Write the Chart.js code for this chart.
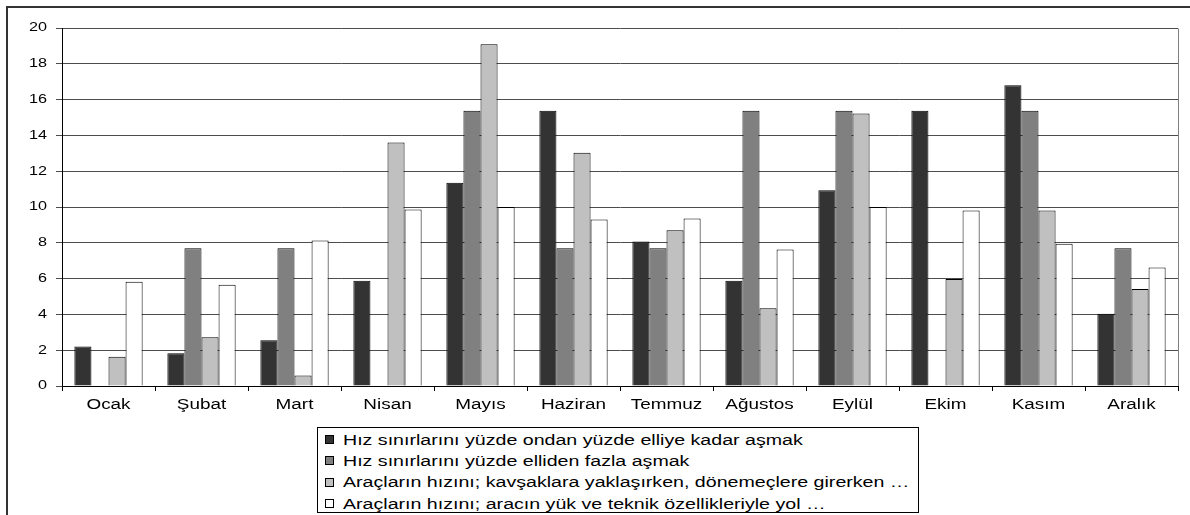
<!DOCTYPE html>
<html lang="tr">
<head>
<meta charset="utf-8">
<title>Aylara göre hız ihlalleri</title>
<script src="https://cdn.jsdelivr.net/npm/chart.js@4.4.1/dist/chart.umd.min.js"></script>
<style>
  html, body { margin: 0; padding: 0; background: #fff; }
  body { width: 1190px; height: 515px; position: relative; overflow: hidden;
         font-family: "Liberation Sans", Arial, sans-serif; }
  #frame { position: absolute; left: 6px; top: 6px; right: -4px; bottom: -4px;
           border-left: 2px solid #333; border-top: 2px solid #333; pointer-events: none; }
  #c { position: absolute; left: 0; top: 0; }
  #legend { position: absolute; left: 317px; top: 427px; width: 602px; height: 86px;
            border: 1px solid #000; background: #fff; box-sizing: border-box; padding-top: 1px; }
  .row { height: 21.3px; display: flex; align-items: center; white-space: nowrap; }
  .mark { width: 7px; height: 7px; border: 1px solid #000; margin-left: 7px; margin-right: 9px; flex: none; }
  .txt { display: inline-block; font-size: 14px; color: #000; transform-origin: 0 50%; }
</style>
</head>
<body>
<canvas id="c" width="1190" height="515"></canvas>
<div id="frame"></div>
<div id="legend"></div>
<script>
// Months on the category axis
const months = ['Ocak', 'Şubat', 'Mart', 'Nisan', 'Mayıs', 'Haziran', 'Temmuz',
                'Ağustos', 'Eylül', 'Ekim', 'Kasım', 'Aralık'];

// Series names (as shown in the legend)
const seriesNames = [
  'Hız sınırlarını yüzde ondan yüzde elliye kadar aşmak',
  'Hız sınırlarını yüzde elliden fazla aşmak',
  'Araçların hızını; kavşaklara yaklaşırken, dönemeçlere girerken …',
  'Araçların hızını; aracın yük ve teknik özellikleriyle yol …'
];

// Monthly values per series
const asim10to50 = [2.2, 1.83, 2.55, 5.88, 11.35, 15.38, 8.07, 5.88, 10.94, 15.38, 16.8, 4.03];
const asimOver50 = [0, 7.69, 7.69, 0, 15.38, 7.69, 7.69, 15.38, 15.38, 0, 15.38, 7.69];
const kavsakHiz  = [1.64, 2.72, 0.58, 13.6, 19.09, 13.03, 8.7, 4.34, 15.23, 5.98, 9.8, 5.42];
const yukTeknik  = [5.82, 5.65, 8.13, 9.86, 10.0, 9.3, 9.36, 7.62, 10.0, 9.8, 7.94, 6.62];

// Value axis range and tick step
const yMin = 0, yMax = 20, yStep = 2;

const fills = ['#333333', '#808080', '#c0c0c0', '#ffffff'];
const seriesValues = [asim10to50, asimOver50, kavsakHiz, yukTeknik];

// The chart's lettering is set wide; stretch canvas text horizontally about its anchor
const TEXT_STRETCH = 1.35;
const LEGEND_STRETCH = 1.40;
const canvas = document.getElementById('c');
const ctx = canvas.getContext('2d');
const baseFillText = ctx.fillText;
ctx.fillText = function (text, x, y) {
  this.save();
  this.translate(x, y);
  this.scale(TEXT_STRETCH, 1);
  baseFillText.call(this, text, 0, 0);
  this.restore();
};

// Gray frame on the right side of the plot area
const plotFrame = {
  id: 'plotFrame',
  afterDraw(chart) {
    const a = chart.chartArea;
    const c = chart.ctx;
    c.save();
    c.strokeStyle = '#808080';
    c.lineWidth = 1;
    c.beginPath();
    c.moveTo(Math.round(a.right) + 0.5, Math.round(a.top) + 0.5);
    c.lineTo(Math.round(a.right) + 0.5, Math.round(a.bottom));
    c.stroke();
    c.restore();
  }
};

Chart.defaults.font.family = '"Liberation Sans", Arial, sans-serif';
Chart.defaults.color = '#000';

const chart = new Chart(ctx, {
  type: 'bar',
  data: {
    labels: months,
    datasets: seriesNames.map((name, i) => ({
      label: name,
      data: seriesValues[i],
      backgroundColor: fills[i],
      borderColor: '#000',
      borderWidth: 1,
      categoryPercentage: 0.734,
      barPercentage: 1.0
    }))
  },
  options: {
    responsive: false,
    animation: false,
    devicePixelRatio: 1,
    layout: { padding: { top: 28, right: 12, bottom: 0, left: 0 } },
    plugins: { legend: { display: false }, tooltip: { enabled: false } },
    scales: {
      x: {
        grid: { drawOnChartArea: false, drawTicks: true, tickLength: 5, color: '#000' },
        border: { color: '#000', width: 1 },
        ticks: { font: { size: 14 }, padding: 6, maxRotation: 0, autoSkip: false },
        afterFit(scale) { scale.height = 129; }
      },
      y: {
        min: yMin, max: yMax,
        grid: { color: '#4d4d4d', tickLength: 6, drawTicks: true },
        border: { color: '#000', width: 1 },
        ticks: { stepSize: yStep, font: { size: 12 }, padding: 9 },
        afterFit(scale) { scale.width = 62; }
      }
    }
  },
  plugins: [plotFrame]
});

// Legend box built from the chart's datasets
const legend = document.getElementById('legend');
chart.data.datasets.forEach(ds => {
  const row = document.createElement('div');
  row.className = 'row';
  const mark = document.createElement('span');
  mark.className = 'mark';
  mark.style.background = ds.backgroundColor;
  const txt = document.createElement('span');
  txt.className = 'txt';
  txt.textContent = ds.label;
  txt.style.transform = 'scaleX(' + LEGEND_STRETCH + ')';
  row.appendChild(mark);
  row.appendChild(txt);
  legend.appendChild(row);
});
</script>
</body>
</html>
